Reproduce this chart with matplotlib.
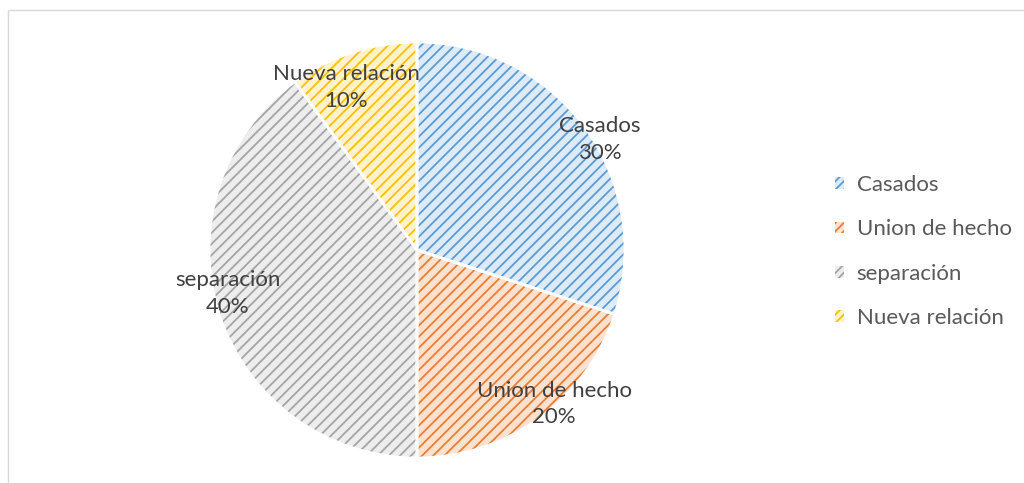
import matplotlib

matplotlib.use("Agg")
import matplotlib.pyplot as plt
from matplotlib.patches import Rectangle

categories = ["Casados", "Union de hecho", "separación", "Nueva relación"]
values = [30, 20, 40, 10]
dark_colors = ["#5B9BD5", "#ED7D31", "#A5A5A5", "#FFC000"]
light_colors = ["#DDEBF7", "#FBE2D0", "#EDEDED", "#FFF2CC"]
# label centres in pie units (radius = 1)
label_pos = [(0.88, 0.53), (0.66, -0.74), (-0.91, -0.21), (-0.34, 0.78)]

TEXT = "#404040"
HATCH = "///"

plt.rcParams["font.family"] = ["Lato", "DejaVu Sans"]
plt.rcParams["hatch.linewidth"] = 1.3

W, H = 1024, 483
fig = plt.figure(figsize=(W / 100, H / 100), dpi=100)

# chart frame (cropped on right and bottom)
fig.patches.append(Rectangle((8 / W, -0.1), 1.2, (H - 10) / H + 0.1, transform=fig.transFigure,
                             fill=False, edgecolor="#D9D9D9", linewidth=1.0))

cx, cy, r = 417, 250, 208
ax = fig.add_axes([(cx - r) / W, (H - cy - r) / H, 2 * r / W, 2 * r / H])
ax.set_xlim(-1, 1)
ax.set_ylim(-1, 1)
ax.axis("off")

wedges, _ = ax.pie(values, startangle=90, counterclock=False, radius=1,
                   colors=light_colors, wedgeprops=dict(linewidth=0))
for w, dc in zip(wedges, dark_colors):
    w.set_hatch(HATCH)
    w.set_edgecolor(dc)
    w.set_linewidth(0)
# white separators on top
ax.pie(values, startangle=90, counterclock=False, radius=1,
       colors=["none"] * len(values), wedgeprops=dict(linewidth=2, edgecolor="white"))
ax.set_xlim(-1, 1)
ax.set_ylim(-1, 1)

total = sum(values)
for name, v, (x, y) in zip(categories, values, label_pos):
    ax.text(x, y, f"{name}\n{v / total:.0%}", ha="center", va="center",
            fontsize=16, color=TEXT, linespacing=1.42)

handles = [Rectangle((0, 0), 1, 1, facecolor=lc, edgecolor=dc, hatch="////", linewidth=0)
           for lc, dc in zip(light_colors, dark_colors)]
leg = fig.legend(handles, categories, loc="center left", bbox_to_anchor=(815 / W, 1 - 251.5 / H),
                 frameon=False, fontsize=16, labelcolor="#595959", handlelength=0.42,
                 handleheight=0.42, handletextpad=0.55, labelspacing=1.1)

fig.savefig("out.png", dpi=100)
